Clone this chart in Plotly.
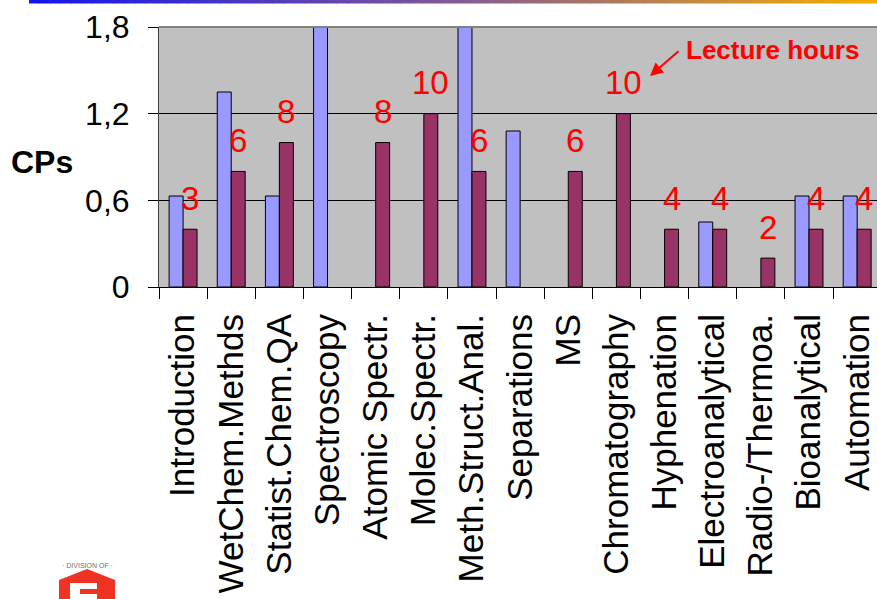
import plotly.graph_objects as go

categories = ["Introduction", "WetChem.Methds", "Statist.Chem.QA", "Spectroscopy",
              "Atomic Spectr.", "Molec.Spectr.", "Meth.Struct.Anal.", "Separations",
              "MS", "Chromatography", "Hyphenation", "Electroanalytical",
              "Radio-/Thermoa.", "Bioanalytical", "Automation"]
cps_blue = [0.63, 1.35, 0.63, 1.8, None, None, 1.8, 1.08, None, None, None, 0.45, None, 0.63, 0.63]
cps_red = [0.4, 0.8, 1.0, None, 1.0, 1.2, 0.8, None, 0.8, 1.2, 0.4, 0.4, 0.2, 0.4, 0.4]
lecture_hours = [3, 6, 8, None, 8, 10, 6, None, 6, 10, 4, 4, 2, 4, 4]
y_tickvals = [0, 0.6, 1.2, 1.8]
y_ticktext = ["0", "0,6", "1,2", "1,8"]

FONT = "Arial, Liberation Sans, sans-serif"

# layout geometry (pixels)
W, H = 877, 599
L, R, T, B = 159, 0, 27, 312
PW, PH = W - L - R, H - T - B
CAT_W = 48.15

def px(x):
    return (x - L) / PW

def py(y):
    return (H - B - y) / PH

fig = go.Figure()
fig.add_trace(go.Bar(x=categories, y=cps_blue, marker=dict(color="#9999FF", line=dict(color="#000000", width=1)),
                     name="CPs"))
fig.add_trace(go.Bar(x=categories, y=cps_red, marker=dict(color="#993366", line=dict(color="#000000", width=1)),
                     name="Lecture"))

annotations = []
for i, (c, v, h) in enumerate(zip(categories, cps_red, lecture_hours)):
    if h is None or v is None:
        continue
    annotations.append(dict(x=c, y=v, xref="x", yref="y", text=str(h), showarrow=False,
                            xshift=7, yshift=31, yanchor="middle", xanchor="center",
                            font=dict(family=FONT, size=33, color="#FF0000")))

# "Lecture hours" note with arrow
annotations.append(dict(x=px(772), y=py(50), xref="paper", yref="paper", text="<b>Lecture hours</b>",
                        showarrow=False, xanchor="center", yanchor="middle",
                        font=dict(family=FONT, size=26, color="#FF0000")))
annotations.append(dict(x=px(650), y=py(76), xref="paper", yref="paper", text="",
                        showarrow=True, ax=30, ay=-26, axref="pixel", ayref="pixel",
                        arrowhead=2, arrowsize=1.3, arrowwidth=2, arrowcolor="#FF0000"))
# y title
annotations.append(dict(x=px(42), y=py(162), xref="paper", yref="paper", text="<b>CPs</b>",
                        showarrow=False, xanchor="center", yanchor="middle",
                        font=dict(family=FONT, size=32, color="#000000")))
# logo text
annotations.append(dict(x=px(87), y=py(566), xref="paper", yref="paper", text="· DIVISION OF ·",
                        showarrow=False, xanchor="center", yanchor="middle",
                        font=dict(family=FONT, size=7, color="#707070")))

shapes = []
# gradient bar on top
x0, x1 = 29, 877
n = 80
stops = [(0.0, (20, 20, 235)), (0.5, (130, 90, 150)), (1.0, (245, 172, 0))]
def col(t):
    for (t0, c0), (t1, c1) in zip(stops[:-1], stops[1:]):
        if t <= t1:
            f = (t - t0) / (t1 - t0)
            return "rgb(%d,%d,%d)" % tuple(round(a + (b - a) * f) for a, b in zip(c0, c1))
    return "rgb(%d,%d,%d)" % stops[-1][1]
for k in range(n):
    xa = x0 + (x1 - x0) * k / n
    xb = x0 + (x1 - x0) * (k + 1) / n + 0.6
    shapes.append(dict(type="rect", xref="paper", yref="paper", x0=px(xa), x1=px(xb), y0=py(3.5), y1=py(0),
                       line=dict(width=0), fillcolor=col(k / (n - 1)), layer="above"))
# top border of plot
shapes.append(dict(type="line", xref="paper", yref="paper", x0=0, x1=1, y0=1, y1=1,
                   line=dict(color="#808080", width=2)))
# logo approximation
shapes.append(dict(type="path", xref="paper", yref="paper",
                   path="M %f,%f L %f,%f L %f,%f L %f,%f L %f,%f Z" % (
                       px(87), py(569), px(115), py(580), px(115), py(600), px(59), py(600), px(59), py(580)),
                   fillcolor="#EE3322", line=dict(width=0)))
shapes.append(dict(type="rect", xref="paper", yref="paper", x0=px(70), x1=px(97), y0=py(600), y1=py(583),
                   fillcolor="#FFFFFF", line=dict(width=0)))
shapes.append(dict(type="rect", xref="paper", yref="paper", x0=px(80), x1=px(97), y0=py(594), y1=py(589),
                   fillcolor="#EE3322", line=dict(width=0)))

fig.update_layout(
    width=W, height=H, autosize=False,
    margin=dict(l=L, r=R, t=T, b=B, pad=0),
    paper_bgcolor="#FFFFFF", plot_bgcolor="#C0C0C0",
    barmode="group", bargap=0.42, bargroupgap=0,
    showlegend=False,
    font=dict(family=FONT, color="#000000"),
    annotations=annotations, shapes=shapes,
)
fig.update_xaxes(type="category", range=[-0.5, -0.5 + PW / CAT_W], tickangle=-90,
                 tickson="boundaries", ticks="outside", ticklen=11, tickcolor="#000000", tickwidth=1,
                 ticklabelstandoff=12,
                 showline=True, linecolor="#000000", linewidth=1, showgrid=False,
                 tickfont=dict(family=FONT, size=35, color="#000000"))
fig.update_yaxes(range=[0, 1.8], tickvals=y_tickvals, ticktext=y_ticktext,
                 ticks="outside", ticklen=10, tickcolor="#000000", tickwidth=1,
                 ticklabelstandoff=12,
                 showline=True, linecolor="#404040", linewidth=1,
                 showgrid=True, gridcolor="#000000", gridwidth=1, zeroline=False,
                 tickfont=dict(family=FONT, size=32, color="#000000"))

fig.write_html("out.html")
